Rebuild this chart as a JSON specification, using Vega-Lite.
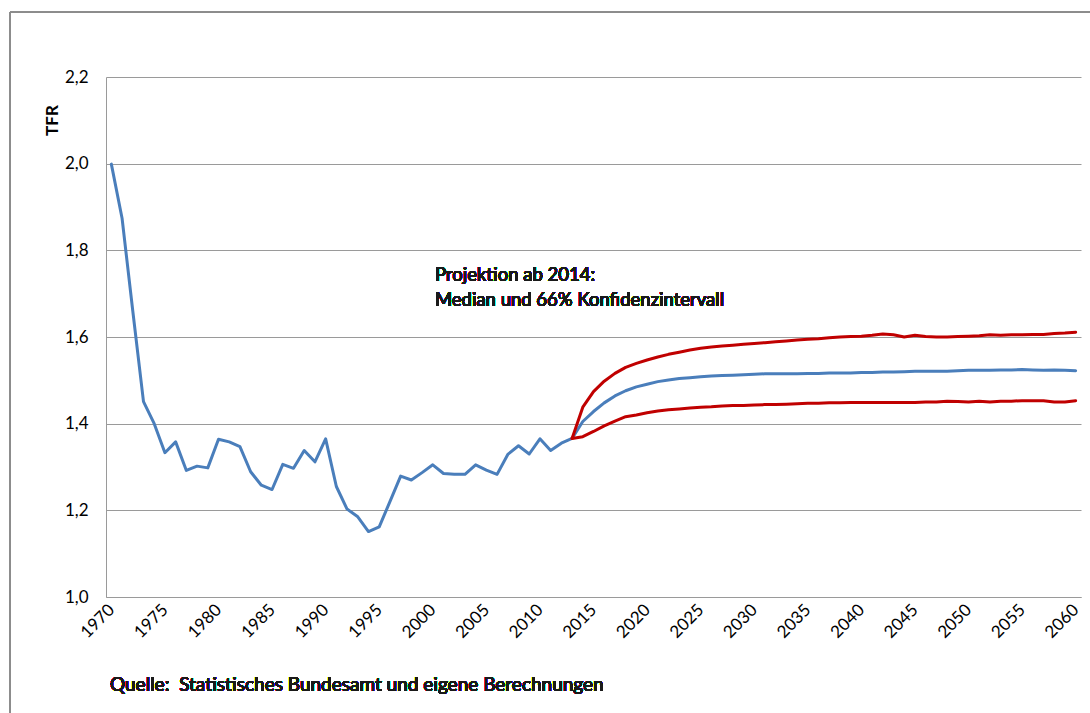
{
  "$schema": "https://vega.github.io/schema/vega-lite/v6.json",
  "width": 975,
  "height": 520,
  "autosize": {"type": "none"},
  "padding": {"left": 106, "top": 77, "right": 9, "bottom": 116},
  "background": "white",
  "config": {
    "view": {"stroke": null},
    "font": "Lato"
  },
  "datasets": {
    "tfr": [
      {"year": 1970, "series": "Median", "tfr": 1.999},
      {"year": 1971, "series": "Median", "tfr": 1.874},
      {"year": 1972, "series": "Median", "tfr": 1.66},
      {"year": 1973, "series": "Median", "tfr": 1.451},
      {"year": 1974, "series": "Median", "tfr": 1.4},
      {"year": 1975, "series": "Median", "tfr": 1.333},
      {"year": 1976, "series": "Median", "tfr": 1.358},
      {"year": 1977, "series": "Median", "tfr": 1.292},
      {"year": 1978, "series": "Median", "tfr": 1.302},
      {"year": 1979, "series": "Median", "tfr": 1.298},
      {"year": 1980, "series": "Median", "tfr": 1.364},
      {"year": 1981, "series": "Median", "tfr": 1.358},
      {"year": 1982, "series": "Median", "tfr": 1.347},
      {"year": 1983, "series": "Median", "tfr": 1.289},
      {"year": 1984, "series": "Median", "tfr": 1.258},
      {"year": 1985, "series": "Median", "tfr": 1.248},
      {"year": 1986, "series": "Median", "tfr": 1.306},
      {"year": 1987, "series": "Median", "tfr": 1.297},
      {"year": 1988, "series": "Median", "tfr": 1.338},
      {"year": 1989, "series": "Median", "tfr": 1.312},
      {"year": 1990, "series": "Median", "tfr": 1.365},
      {"year": 1991, "series": "Median", "tfr": 1.255},
      {"year": 1992, "series": "Median", "tfr": 1.203},
      {"year": 1993, "series": "Median", "tfr": 1.185},
      {"year": 1994, "series": "Median", "tfr": 1.151},
      {"year": 1995, "series": "Median", "tfr": 1.162},
      {"year": 1996, "series": "Median", "tfr": 1.22},
      {"year": 1997, "series": "Median", "tfr": 1.279},
      {"year": 1998, "series": "Median", "tfr": 1.27},
      {"year": 1999, "series": "Median", "tfr": 1.287},
      {"year": 2000, "series": "Median", "tfr": 1.305},
      {"year": 2001, "series": "Median", "tfr": 1.285},
      {"year": 2002, "series": "Median", "tfr": 1.283},
      {"year": 2003, "series": "Median", "tfr": 1.283},
      {"year": 2004, "series": "Median", "tfr": 1.305},
      {"year": 2005, "series": "Median", "tfr": 1.293},
      {"year": 2006, "series": "Median", "tfr": 1.283},
      {"year": 2007, "series": "Median", "tfr": 1.329},
      {"year": 2008, "series": "Median", "tfr": 1.349},
      {"year": 2009, "series": "Median", "tfr": 1.33},
      {"year": 2010, "series": "Median", "tfr": 1.365},
      {"year": 2011, "series": "Median", "tfr": 1.338},
      {"year": 2012, "series": "Median", "tfr": 1.355},
      {"year": 2013, "series": "Median", "tfr": 1.366},
      {"year": 2014, "series": "Median", "tfr": 1.405},
      {"year": 2015, "series": "Median", "tfr": 1.428},
      {"year": 2016, "series": "Median", "tfr": 1.448},
      {"year": 2017, "series": "Median", "tfr": 1.464},
      {"year": 2018, "series": "Median", "tfr": 1.476},
      {"year": 2019, "series": "Median", "tfr": 1.485},
      {"year": 2020, "series": "Median", "tfr": 1.491},
      {"year": 2021, "series": "Median", "tfr": 1.497},
      {"year": 2022, "series": "Median", "tfr": 1.501},
      {"year": 2023, "series": "Median", "tfr": 1.504},
      {"year": 2024, "series": "Median", "tfr": 1.506},
      {"year": 2025, "series": "Median", "tfr": 1.508},
      {"year": 2026, "series": "Median", "tfr": 1.51},
      {"year": 2027, "series": "Median", "tfr": 1.511},
      {"year": 2028, "series": "Median", "tfr": 1.512},
      {"year": 2029, "series": "Median", "tfr": 1.513},
      {"year": 2030, "series": "Median", "tfr": 1.514},
      {"year": 2031, "series": "Median", "tfr": 1.515},
      {"year": 2032, "series": "Median", "tfr": 1.515},
      {"year": 2033, "series": "Median", "tfr": 1.515},
      {"year": 2034, "series": "Median", "tfr": 1.515},
      {"year": 2035, "series": "Median", "tfr": 1.516},
      {"year": 2036, "series": "Median", "tfr": 1.516},
      {"year": 2037, "series": "Median", "tfr": 1.517},
      {"year": 2038, "series": "Median", "tfr": 1.517},
      {"year": 2039, "series": "Median", "tfr": 1.517},
      {"year": 2040, "series": "Median", "tfr": 1.518},
      {"year": 2041, "series": "Median", "tfr": 1.518},
      {"year": 2042, "series": "Median", "tfr": 1.519},
      {"year": 2043, "series": "Median", "tfr": 1.519},
      {"year": 2044, "series": "Median", "tfr": 1.52},
      {"year": 2045, "series": "Median", "tfr": 1.521},
      {"year": 2046, "series": "Median", "tfr": 1.521},
      {"year": 2047, "series": "Median", "tfr": 1.521},
      {"year": 2048, "series": "Median", "tfr": 1.521},
      {"year": 2049, "series": "Median", "tfr": 1.522},
      {"year": 2050, "series": "Median", "tfr": 1.523},
      {"year": 2051, "series": "Median", "tfr": 1.523},
      {"year": 2052, "series": "Median", "tfr": 1.523},
      {"year": 2053, "series": "Median", "tfr": 1.524},
      {"year": 2054, "series": "Median", "tfr": 1.524},
      {"year": 2055, "series": "Median", "tfr": 1.525},
      {"year": 2056, "series": "Median", "tfr": 1.524},
      {"year": 2057, "series": "Median", "tfr": 1.523},
      {"year": 2058, "series": "Median", "tfr": 1.524},
      {"year": 2059, "series": "Median", "tfr": 1.523},
      {"year": 2060, "series": "Median", "tfr": 1.522},

      {"year": 2013, "series": "Obergrenze", "tfr": 1.366},
      {"year": 2014, "series": "Obergrenze", "tfr": 1.438},
      {"year": 2015, "series": "Obergrenze", "tfr": 1.474},
      {"year": 2016, "series": "Obergrenze", "tfr": 1.498},
      {"year": 2017, "series": "Obergrenze", "tfr": 1.516},
      {"year": 2018, "series": "Obergrenze", "tfr": 1.53},
      {"year": 2019, "series": "Obergrenze", "tfr": 1.539},
      {"year": 2020, "series": "Obergrenze", "tfr": 1.547},
      {"year": 2021, "series": "Obergrenze", "tfr": 1.554},
      {"year": 2022, "series": "Obergrenze", "tfr": 1.56},
      {"year": 2023, "series": "Obergrenze", "tfr": 1.565},
      {"year": 2024, "series": "Obergrenze", "tfr": 1.57},
      {"year": 2025, "series": "Obergrenze", "tfr": 1.574},
      {"year": 2026, "series": "Obergrenze", "tfr": 1.577},
      {"year": 2027, "series": "Obergrenze", "tfr": 1.579},
      {"year": 2028, "series": "Obergrenze", "tfr": 1.581},
      {"year": 2029, "series": "Obergrenze", "tfr": 1.583},
      {"year": 2030, "series": "Obergrenze", "tfr": 1.585},
      {"year": 2031, "series": "Obergrenze", "tfr": 1.587},
      {"year": 2032, "series": "Obergrenze", "tfr": 1.589},
      {"year": 2033, "series": "Obergrenze", "tfr": 1.591},
      {"year": 2034, "series": "Obergrenze", "tfr": 1.593},
      {"year": 2035, "series": "Obergrenze", "tfr": 1.595},
      {"year": 2036, "series": "Obergrenze", "tfr": 1.596},
      {"year": 2037, "series": "Obergrenze", "tfr": 1.598},
      {"year": 2038, "series": "Obergrenze", "tfr": 1.6},
      {"year": 2039, "series": "Obergrenze", "tfr": 1.601},
      {"year": 2040, "series": "Obergrenze", "tfr": 1.602},
      {"year": 2041, "series": "Obergrenze", "tfr": 1.604},
      {"year": 2042, "series": "Obergrenze", "tfr": 1.607},
      {"year": 2043, "series": "Obergrenze", "tfr": 1.605},
      {"year": 2044, "series": "Obergrenze", "tfr": 1.6},
      {"year": 2045, "series": "Obergrenze", "tfr": 1.604},
      {"year": 2046, "series": "Obergrenze", "tfr": 1.601},
      {"year": 2047, "series": "Obergrenze", "tfr": 1.6},
      {"year": 2048, "series": "Obergrenze", "tfr": 1.6},
      {"year": 2049, "series": "Obergrenze", "tfr": 1.601},
      {"year": 2050, "series": "Obergrenze", "tfr": 1.602},
      {"year": 2051, "series": "Obergrenze", "tfr": 1.603},
      {"year": 2052, "series": "Obergrenze", "tfr": 1.605},
      {"year": 2053, "series": "Obergrenze", "tfr": 1.604},
      {"year": 2054, "series": "Obergrenze", "tfr": 1.605},
      {"year": 2055, "series": "Obergrenze", "tfr": 1.605},
      {"year": 2056, "series": "Obergrenze", "tfr": 1.606},
      {"year": 2057, "series": "Obergrenze", "tfr": 1.606},
      {"year": 2058, "series": "Obergrenze", "tfr": 1.608},
      {"year": 2059, "series": "Obergrenze", "tfr": 1.609},
      {"year": 2060, "series": "Obergrenze", "tfr": 1.611},

      {"year": 2013, "series": "Untergrenze", "tfr": 1.366},
      {"year": 2014, "series": "Untergrenze", "tfr": 1.37},
      {"year": 2015, "series": "Untergrenze", "tfr": 1.382},
      {"year": 2016, "series": "Untergrenze", "tfr": 1.395},
      {"year": 2017, "series": "Untergrenze", "tfr": 1.406},
      {"year": 2018, "series": "Untergrenze", "tfr": 1.416},
      {"year": 2019, "series": "Untergrenze", "tfr": 1.42},
      {"year": 2020, "series": "Untergrenze", "tfr": 1.425},
      {"year": 2021, "series": "Untergrenze", "tfr": 1.429},
      {"year": 2022, "series": "Untergrenze", "tfr": 1.432},
      {"year": 2023, "series": "Untergrenze", "tfr": 1.434},
      {"year": 2024, "series": "Untergrenze", "tfr": 1.436},
      {"year": 2025, "series": "Untergrenze", "tfr": 1.438},
      {"year": 2026, "series": "Untergrenze", "tfr": 1.439},
      {"year": 2027, "series": "Untergrenze", "tfr": 1.441},
      {"year": 2028, "series": "Untergrenze", "tfr": 1.442},
      {"year": 2029, "series": "Untergrenze", "tfr": 1.442},
      {"year": 2030, "series": "Untergrenze", "tfr": 1.443},
      {"year": 2031, "series": "Untergrenze", "tfr": 1.444},
      {"year": 2032, "series": "Untergrenze", "tfr": 1.444},
      {"year": 2033, "series": "Untergrenze", "tfr": 1.445},
      {"year": 2034, "series": "Untergrenze", "tfr": 1.446},
      {"year": 2035, "series": "Untergrenze", "tfr": 1.447},
      {"year": 2036, "series": "Untergrenze", "tfr": 1.447},
      {"year": 2037, "series": "Untergrenze", "tfr": 1.448},
      {"year": 2038, "series": "Untergrenze", "tfr": 1.448},
      {"year": 2039, "series": "Untergrenze", "tfr": 1.449},
      {"year": 2040, "series": "Untergrenze", "tfr": 1.449},
      {"year": 2041, "series": "Untergrenze", "tfr": 1.449},
      {"year": 2042, "series": "Untergrenze", "tfr": 1.449},
      {"year": 2043, "series": "Untergrenze", "tfr": 1.449},
      {"year": 2044, "series": "Untergrenze", "tfr": 1.449},
      {"year": 2045, "series": "Untergrenze", "tfr": 1.449},
      {"year": 2046, "series": "Untergrenze", "tfr": 1.45},
      {"year": 2047, "series": "Untergrenze", "tfr": 1.45},
      {"year": 2048, "series": "Untergrenze", "tfr": 1.452},
      {"year": 2049, "series": "Untergrenze", "tfr": 1.451},
      {"year": 2050, "series": "Untergrenze", "tfr": 1.45},
      {"year": 2051, "series": "Untergrenze", "tfr": 1.452},
      {"year": 2052, "series": "Untergrenze", "tfr": 1.45},
      {"year": 2053, "series": "Untergrenze", "tfr": 1.452},
      {"year": 2054, "series": "Untergrenze", "tfr": 1.452},
      {"year": 2055, "series": "Untergrenze", "tfr": 1.453},
      {"year": 2056, "series": "Untergrenze", "tfr": 1.453},
      {"year": 2057, "series": "Untergrenze", "tfr": 1.453},
      {"year": 2058, "series": "Untergrenze", "tfr": 1.45},
      {"year": 2059, "series": "Untergrenze", "tfr": 1.45},
      {"year": 2060, "series": "Untergrenze", "tfr": 1.453}
    ]
  },
  "data": {"name": "tfr"},
  "encoding": {
    "x": {
      "field": "year",
      "type": "quantitative",
      "scale": {"domain": [1969.5, 2060.5], "nice": false, "zero": false},
      "axis": {
        "title": null,
        "values": [1970, 1975, 1980, 1985, 1990, 1995, 2000, 2005, 2010, 2015, 2020, 2025, 2030, 2035, 2040, 2045, 2050, 2055, 2060],
        "format": "d",
        "grid": false,
        "ticks": false,
        "tickSize": 0,
        "domain": true,
        "domainColor": "#9a9a9a",
        "domainWidth": 1,
        "labelAngle": -45,
        "labelAlign": "right",
        "labelBaseline": "middle",
        "labelPadding": 10,
        "labelFontSize": 17,
        "labelColor": "#000000",
        "labelFont": "Lato",
        "labelOverlap": false,
        "labelFlush": false
      }
    },
    "y": {
      "field": "tfr",
      "type": "quantitative",
      "scale": {"domain": [1.0, 2.2], "nice": false, "zero": false},
      "axis": {
        "title": "TFR",
        "titleFont": "Lato",
        "titleFontSize": 17,
        "titleFontWeight": "bold",
        "titleColor": "#000000",
        "titleAngle": 270,
        "titleAlign": "center",
        "titleBaseline": "middle",
        "titleX": -54,
        "titleY": 43,
        "values": [1.0, 1.2, 1.4, 1.6, 1.8, 2.0, 2.2],
        "labelExpr": "replace(format(datum.value, '.1f'), '.', ',')",
        "grid": true,
        "gridColor": "#9a9a9a",
        "gridWidth": 1,
        "ticks": false,
        "tickSize": 0,
        "domain": true,
        "domainColor": "#9a9a9a",
        "domainWidth": 1,
        "labelPadding": 18,
        "labelFontSize": 17,
        "labelColor": "#000000",
        "labelFont": "Lato",
        "labelFlush": false,
        "labelOverlap": false
      }
    }
  },
  "layer": [
    {
      "transform": [{"filter": "datum.series === 'Median'"}],
      "mark": {"type": "line", "color": "#4A7EBB", "strokeWidth": 3, "strokeJoin": "round", "strokeCap": "round"}
    },
    {
      "transform": [{"filter": "datum.series !== 'Median'"}],
      "mark": {"type": "line", "color": "#C00000", "strokeWidth": 3, "strokeJoin": "round", "strokeCap": "round"},
      "encoding": {"detail": {"field": "series", "type": "nominal"}}
    },
    {
      "mark": {"type": "text", "align": "left", "baseline": "alphabetic", "fontSize": 18.5, "lineHeight": 25, "color": "#1a1a1a", "font": "Lato"},
      "encoding": {
        "x": {"datum": 2000.2},
        "y": {"datum": 1.729},
        "text": {"value": ["Projektion ab 2014:", "Median und 66% Konfidenzintervall"]}
      }
    },
    {
      "mark": {"type": "text", "align": "left", "baseline": "middle", "fontSize": 19, "color": "#1a1a1a", "font": "Lato"},
      "encoding": {
        "x": {"datum": 1969.87},
        "y": {"datum": 0.797},
        "text": {"value": "Quelle:\u00a0\u00a0Statistisches Bundesamt und eigene Berechnungen"}
      }
    },
    {
      "mark": {"type": "rule", "color": "#8c8c8c", "strokeWidth": 1},
      "encoding": {
        "x": {"datum": 1960.54},
        "y": {"datum": 2.35},
        "y2": {"datum": 0.6}
      }
    },
    {
      "mark": {"type": "rule", "color": "#8c8c8c", "strokeWidth": 1},
      "encoding": {
        "x": {"datum": 1960.54},
        "x2": {"datum": 2062},
        "y": {"datum": 2.35}
      }
    }
  ]
}
